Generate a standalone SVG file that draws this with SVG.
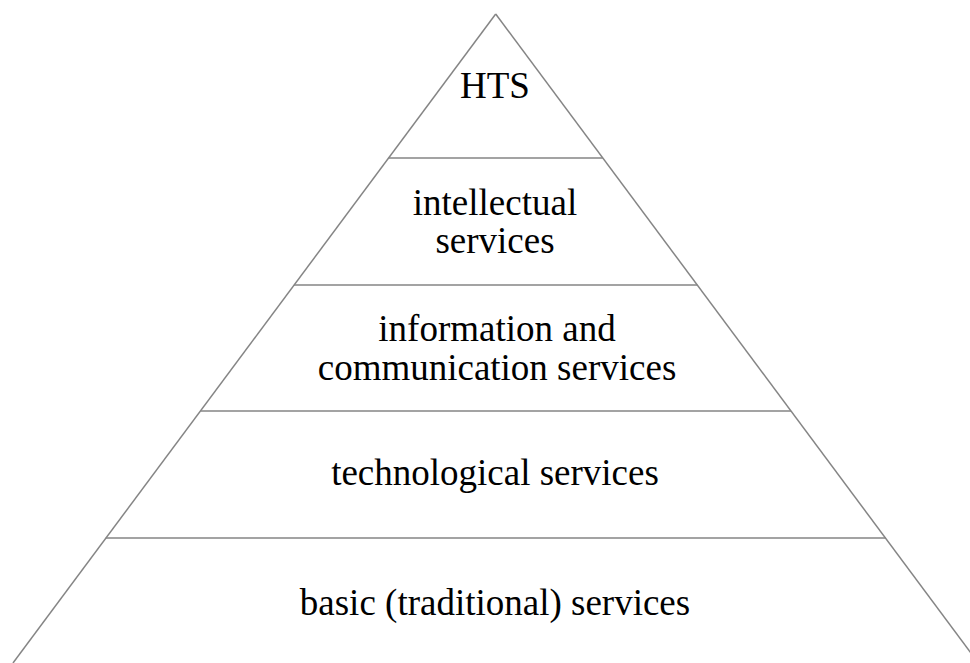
<svg xmlns="http://www.w3.org/2000/svg" width="970" height="663" viewBox="0 0 970 663">
<style>
.edge{stroke:#858585;stroke-width:1.5;fill:none}
.lbl{font-family:"Liberation Serif","Times New Roman",serif;font-size:37px;fill:#000;text-anchor:middle}
</style>
<rect width="970" height="663" fill="#fff"/>
<g id="connectors">
<line class="edge" x1="495.7" y1="14" x2="13" y2="663"/>
<line class="edge" x1="495.7" y1="14" x2="978.4" y2="663"/>
<line class="edge" x1="388.6" y1="158" x2="602.8" y2="158"/>
<line class="edge" x1="294" y1="285" x2="697.4" y2="285"/>
<line class="edge" x1="200.4" y1="411" x2="791" y2="411"/>
<line class="edge" x1="105.8" y1="538" x2="885.6" y2="538"/>
</g>
<g id="hts"><text class="lbl" x="495" y="98">HTS</text></g>
<g id="intellectual"><text class="lbl" x="495" y="215">intellectual</text><text class="lbl" x="495" y="253">services</text></g>
<g id="ict"><text class="lbl" x="497" y="341">information and</text><text class="lbl" x="497" y="380">communication services</text></g>
<g id="technological"><text class="lbl" x="495" y="485">technological services</text></g>
<g id="basic"><text class="lbl" x="495" y="615">basic (traditional) services</text></g>
</svg>
